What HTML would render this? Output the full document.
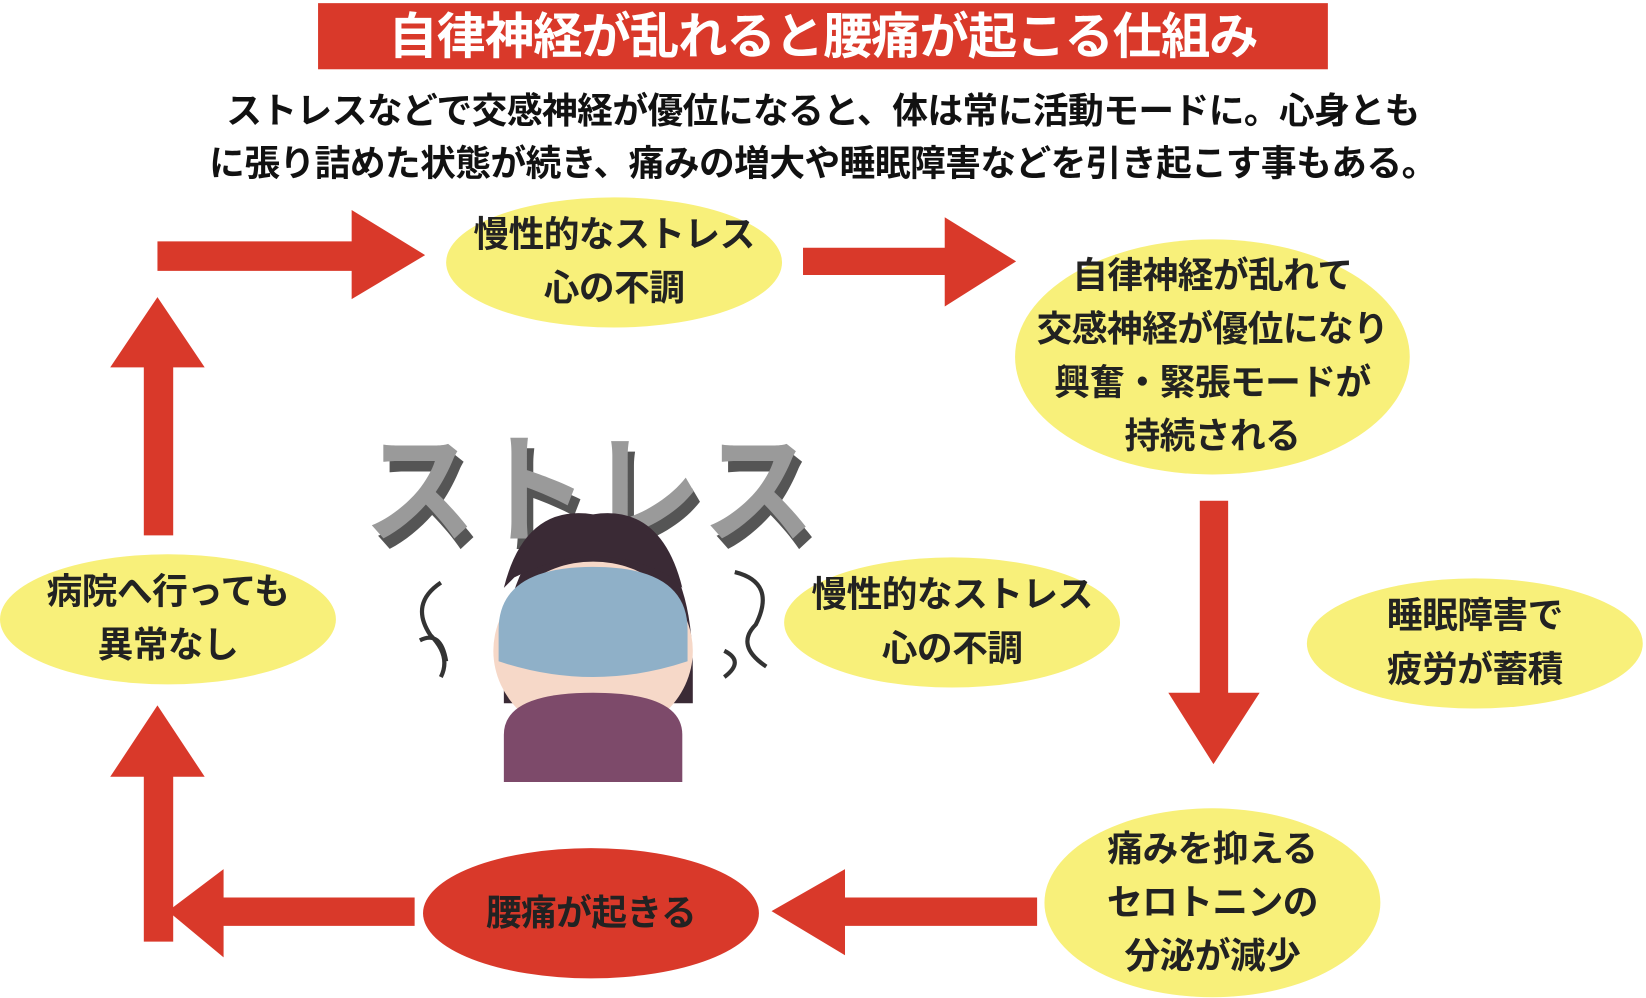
<!DOCTYPE html>
<html><head><meta charset="utf-8"><style>
html,body{margin:0;padding:0;background:#fff;width:1646px;height:998px;overflow:hidden}
#w{position:relative;width:1568px;height:951px;transform:scale(1.0497);transform-origin:0 0;font-family:"Liberation Sans","Noto Sans CJK JP",sans-serif;font-weight:bold}
.t{position:absolute;left:303px;top:3px;width:962px;height:63px;background:#d9392a;color:#fff;font-size:47px;text-align:center;line-height:63px;letter-spacing:-1px}
.s{position:absolute;left:0;width:1568px;text-align:center;font-size:34px;color:#111;letter-spacing:-0.5px}
.e{position:absolute;border-radius:50%;background:#f8f07a;display:flex;align-items:center;justify-content:center;text-align:center;font-size:34px;line-height:51px;color:#222;letter-spacing:-0.5px}
svg{position:absolute;left:0;top:0}
</style></head><body><div id="w">
<div class="t">自律神経が乱れると腰痛が起こる仕組み</div>
<div class="s" style="top:78px">ストレスなどで交感神経が優位になると、体は常に活動モードに。心身とも</div>
<div class="s" style="top:128px">に張り詰めた状態が続き、痛みの増大や睡眠障害などを引き起こす事もある。</div>
<svg width="1568" height="951">
<g fill="#d9392a">
<polygon points="150,230 335,230 335,200 405,243 335,285 335,258 150,258"/>
<polygon points="765,236 900,236 900,207 968,249 900,292 900,262 765,262"/>
<polygon points="1143,477 1170,477 1170,660 1200,660 1156,728 1113,660 1143,660"/>
<polygon points="988,855 805,855 805,828 735,868 805,910 805,882 988,882"/>
<polygon points="395,855 213,855 213,828 160,868 213,912 213,882 395,882"/>
<polygon points="137,897 165,897 165,740 195,740 150,672 105,740 137,740"/>
<polygon points="137,510 165,510 165,350 195,350 150,283 105,350 137,350"/>
</g>
<g font-family="Liberation Sans,Noto Sans CJK JP,sans-serif" font-weight="bold" font-size="115">
<text x="352" y="518" fill="#555" textLength="430" lengthAdjust="spacingAndGlyphs">ストレス</text>
<text x="346" y="508" fill="#9a9a9a" textLength="430" lengthAdjust="spacingAndGlyphs">ストレス</text>
</g>
<g fill="none" stroke="#333" stroke-width="4">
<path d="M420 555 q-30 20 -10 50 q20 20 10 40 M400 610 q20 -10 25 20"/>
<path d="M700 545 q40 10 20 50 q-20 20 10 40 M690 620 q20 10 0 25"/>
</g>
<path d="M480 640 q0 -140 90 -140 q90 0 90 140 l0 30 l-180 0z" fill="#3a2a35"/>
<ellipse cx="565" cy="620" rx="95" ry="85" fill="#f6d8c8"/>
<path d="M475 600 q0 -60 90 -60 q90 0 90 60 l0 30 q-90 30 -180 0z" fill="#8fb0c8"/>
<path d="M480 700 q0 -40 85 -40 q85 0 85 40 l0 45 l-170 0z" fill="#7d4a6a"/>
<path d="M480 560 q20 -80 85 -70 q65 -10 85 70 l-10 -10 q-70 -40 -150 0z" fill="#3a2a35"/>
</svg>
<div class="e" style="left:425px;top:188px;width:320px;height:124px">慢性的なストレス<br>心の不調</div>
<div class="e" style="left:967px;top:228px;width:376px;height:224px">自律神経が乱れて<br>交感神経が優位になり<br>興奮・緊張モードが<br>持続される</div>
<div class="e" style="left:1245px;top:551px;width:320px;height:124px">睡眠障害で<br>疲労が蓄積</div>
<div class="e" style="left:995px;top:770px;width:320px;height:180px">痛みを抑える<br>セロトニンの<br>分泌が減少</div>
<div class="e" style="left:403px;top:808px;width:320px;height:124px;background:#d9392a">腰痛が起きる</div>
<div class="e" style="left:0px;top:528px;width:320px;height:124px">病院へ行っても<br>異常なし</div>
<div class="e" style="left:747px;top:531px;width:320px;height:124px">慢性的なストレス<br>心の不調</div>
</div></body></html>
